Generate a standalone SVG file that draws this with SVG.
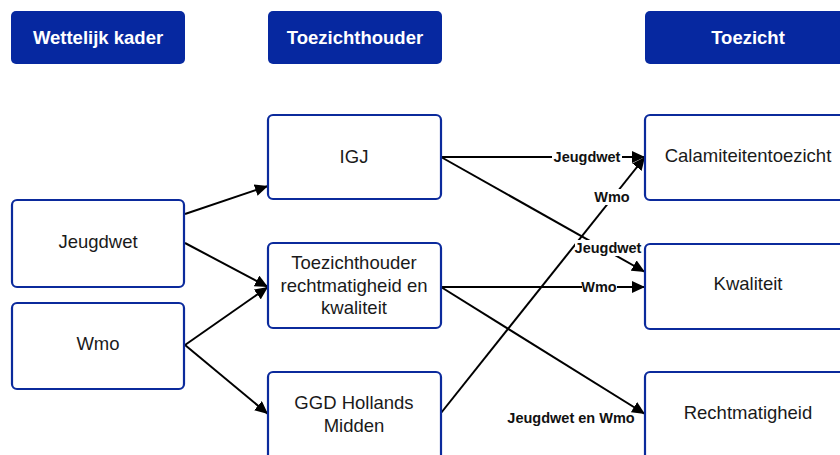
<svg xmlns="http://www.w3.org/2000/svg" width="840" height="455" viewBox="0 0 840 455">
<defs>
<style>
.hdr{fill:#0628a0;stroke:none}
.hdrt{font-family:"Liberation Sans",Arial,sans-serif;font-weight:bold;font-size:18.5px;fill:#fff;text-anchor:middle;dominant-baseline:central}
.box{fill:#fff;stroke:#0b2a9c;stroke-width:2.2}
.t{font-family:"Liberation Sans",Arial,sans-serif;font-size:18.5px;fill:#1a1a1a;text-anchor:middle;dominant-baseline:central}
.e{stroke:#000;stroke-width:2;fill:none;marker-end:url(#ah)}
.lb{font-family:"Liberation Sans",Arial,sans-serif;font-weight:bold;font-size:14.5px;fill:#111;text-anchor:middle;dominant-baseline:central}
.lbg{fill:#fff}
</style>
<marker id="ah" markerUnits="userSpaceOnUse" markerWidth="14" markerHeight="12" refX="13" refY="6" orient="auto">
<path d="M0,0 L13,6 L0,12 Z" fill="#000"/>
</marker>
</defs>
<rect width="840" height="455" fill="#fff"/>
<g id="h-wettelijk"><rect class="hdr" x="11" y="11" width="174" height="53" rx="5"/><text class="hdrt" x="98" y="37">Wettelijk kader</text></g>
<g id="h-toezichthouder"><rect class="hdr" x="268" y="11" width="174" height="53" rx="5"/><text class="hdrt" x="355" y="37">Toezichthouder</text></g>
<g id="h-toezicht"><rect class="hdr" x="645" y="11" width="206" height="53" rx="5"/><text class="hdrt" x="748" y="37">Toezicht</text></g>

<g id="connectors">
<line class="e" x1="185" y1="214" x2="268" y2="186"/>
<line class="e" x1="185" y1="243" x2="268" y2="287"/>
<line class="e" x1="185" y1="345" x2="268" y2="287"/>
<line class="e" x1="185" y1="345" x2="268" y2="414"/>
<line class="e" x1="441" y1="157" x2="645" y2="157"/>
<line class="e" x1="441" y1="157" x2="645" y2="272"/>
<line class="e" x1="441" y1="287" x2="645" y2="287"/>
<line class="e" x1="441" y1="287" x2="645" y2="414"/>
<line class="e" x1="441" y1="413" x2="645" y2="157"/>
<rect class="lbg" x="552" y="149" width="70" height="16"/><text class="lb" x="587" y="157">Jeugdwet</text>
<rect class="lbg" x="575" y="240" width="68" height="16"/><text class="lb" x="608" y="248">Jeugdwet</text>
<rect class="lbg" x="582" y="279" width="35" height="16"/><text class="lb" x="599" y="287">Wmo</text>
<rect class="lbg" x="595" y="189" width="35" height="16"/><text class="lb" x="612" y="197">Wmo</text>
<text class="lb" x="571" y="418">Jeugdwet en Wmo</text>
</g>

<g id="n-jeugdwet"><rect class="box" x="12" y="200" width="172" height="87" rx="5"/><text class="t" x="98" y="241">Jeugdwet</text></g>
<g id="n-wmo"><rect class="box" x="12" y="303" width="172" height="86" rx="5"/><text class="t" x="98" y="343">Wmo</text></g>
<g id="n-igj"><rect class="box" x="268" y="115" width="173" height="84" rx="5"/><text class="t" x="354" y="156">IGJ</text></g>
<g id="n-trk"><rect class="box" x="268" y="243" width="173" height="85" rx="5"/><text class="t" x="354" y="262">Toezichthouder</text><text class="t" x="354" y="285">rechtmatigheid en</text><text class="t" x="354" y="307">kwaliteit</text></g>
<g id="n-ggd"><rect class="box" x="268" y="372" width="173" height="92" rx="5"/><text class="t" x="354" y="402">GGD Hollands</text><text class="t" x="354" y="425">Midden</text></g>
<g id="n-calamiteit"><rect class="box" x="645" y="115" width="206" height="85" rx="5"/><text class="t" x="748" y="155">Calamiteitentoezicht</text></g>
<g id="n-kwaliteit"><rect class="box" x="645" y="244" width="206" height="85" rx="5"/><text class="t" x="748" y="283">Kwaliteit</text></g>
<g id="n-rechtmatigheid"><rect class="box" x="645" y="372" width="206" height="92" rx="5"/><text class="t" x="748" y="412">Rechtmatigheid</text></g>
</svg>
